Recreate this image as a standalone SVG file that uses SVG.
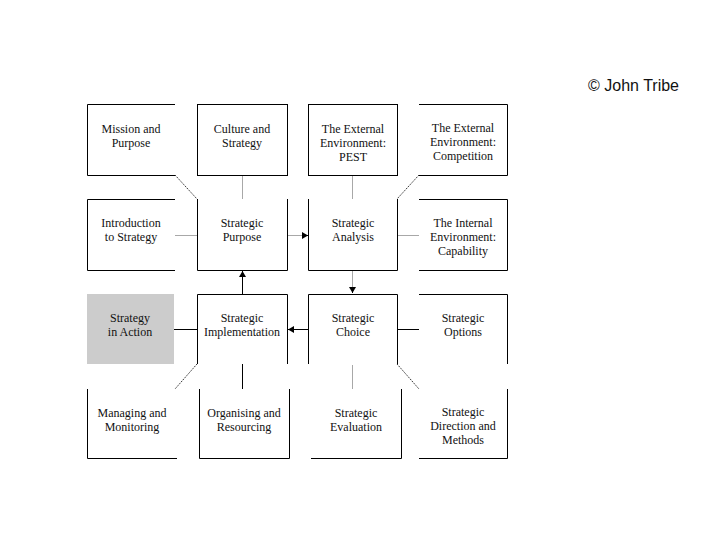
<svg xmlns="http://www.w3.org/2000/svg" width="720" height="540" viewBox="0 0 720 540">
<style>
.b{fill:none;stroke:#000;stroke-width:1}
.t{font-family:"Liberation Serif","Times New Roman",serif;font-size:12px;fill:#111;text-anchor:middle}
.g{stroke:#a8a8a8;stroke-width:1;fill:none}
.k{stroke:#000;stroke-width:1;fill:none}
.d{stroke:#333;stroke-width:1;stroke-dasharray:1.5,1;fill:none}
</style>
<defs>
<marker id="ah" markerUnits="userSpaceOnUse" markerWidth="8" markerHeight="8" refX="6" refY="3.5" orient="auto">
<path d="M0,0 L6,3.5 L0,7 Z" fill="#000"/>
</marker>
</defs>
<rect width="720" height="540" fill="#fff"/>
<text x="679" y="91" font-family="'Liberation Sans',Arial,sans-serif" font-size="16" fill="#111" text-anchor="end">© John Tribe</text>

<g id="connectors">
<line class="d" x1="175" y1="175" x2="197" y2="199"/>
<line class="g" x1="242.5" y1="176" x2="242.5" y2="199"/>
<line class="g" x1="175" y1="235.5" x2="197" y2="235.5"/>
<line class="g" x1="288" y1="235.5" x2="303" y2="235.5"/>
<line class="k" x1="302" y1="235.5" x2="308" y2="235.5" marker-end="url(#ah)"/>
<line class="g" x1="352.5" y1="176" x2="352.5" y2="199"/>
<line class="d" x1="419" y1="175" x2="397" y2="199"/>
<line class="g" x1="398" y1="235.5" x2="419" y2="235.5"/>
<line class="g" x1="352.5" y1="271" x2="352.5" y2="288"/>
<line class="k" x1="352.5" y1="287" x2="352.5" y2="293" marker-end="url(#ah)"/>
<line class="k" x1="308" y1="329.5" x2="288" y2="329.5" marker-end="url(#ah)"/>
<line class="k" x1="242.5" y1="294" x2="242.5" y2="271" marker-end="url(#ah)"/>
<line class="k" x1="174" y1="329.5" x2="197" y2="329.5"/>
<line class="k" x1="398" y1="329.5" x2="419" y2="329.5"/>
<line class="k" x1="242.5" y1="364" x2="242.5" y2="389"/>
<line class="d" x1="197" y1="364" x2="175" y2="389"/>
<line class="g" x1="352.5" y1="365" x2="352.5" y2="389"/>
<line class="d" x1="397" y1="364" x2="419" y2="389"/>
</g>

<g id="mission">
<path class="b" d="M175,104.5 H87.5 V175.5 H175"/>
<text class="t" x="131" y="133">Mission and</text>
<text class="t" x="131" y="147">Purpose</text>
</g>
<g id="culture">
<rect class="b" x="197.5" y="104.5" width="90" height="71"/>
<text class="t" x="242" y="133">Culture and</text>
<text class="t" x="242" y="147">Strategy</text>
</g>
<g id="pest">
<rect class="b" x="308.5" y="104.5" width="89" height="71"/>
<text class="t" x="353" y="133">The External</text>
<text class="t" x="353" y="147">Environment:</text>
<text class="t" x="353" y="161">PEST</text>
</g>
<g id="competition">
<path class="b" d="M419,104.5 H507.5 V175.5 H419"/>
<text class="t" x="463" y="132">The External</text>
<text class="t" x="463" y="146">Environment:</text>
<text class="t" x="463" y="160">Competition</text>
</g>

<g id="introduction">
<path class="b" d="M175,199.5 H87.5 V270.5 H175"/>
<text class="t" x="131" y="227">Introduction</text>
<text class="t" x="131" y="241">to Strategy</text>
</g>
<g id="purpose">
<path class="b" d="M197.5,199 V270.5 H287.5 V199"/>
<text class="t" x="242" y="227">Strategic</text>
<text class="t" x="242" y="241">Purpose</text>
</g>
<g id="analysis">
<path class="b" d="M308.5,199 V270.5 H397.5 V199"/>
<text class="t" x="353" y="227">Strategic</text>
<text class="t" x="353" y="241">Analysis</text>
</g>
<g id="internal">
<path class="b" d="M419,199.5 H507.5 V270.5 H419"/>
<text class="t" x="463" y="227">The Internal</text>
<text class="t" x="463" y="241">Environment:</text>
<text class="t" x="463" y="255">Capability</text>
</g>

<g id="action">
<rect x="87" y="294" width="87" height="70" fill="#cccccc"/>
<text class="t" x="130" y="322">Strategy</text>
<text class="t" x="130" y="336">in Action</text>
</g>
<g id="implementation">
<path class="b" d="M197.5,364 V294.5 H287.5 V364"/>
<text class="t" x="242" y="322">Strategic</text>
<text class="t" x="242" y="336">Implementation</text>
</g>
<g id="choice">
<path class="b" d="M308.5,364 V294.5 H397.5 V364"/>
<text class="t" x="353" y="322">Strategic</text>
<text class="t" x="353" y="336">Choice</text>
</g>
<g id="options">
<path class="b" d="M419,294.5 H507.5 V364"/>
<text class="t" x="463" y="322">Strategic</text>
<text class="t" x="463" y="336">Options</text>
</g>

<g id="managing">
<path class="b" d="M87.5,389 V458.5 H177"/>
<text class="t" x="132" y="417">Managing and</text>
<text class="t" x="132" y="431">Monitoring</text>
</g>
<g id="organising">
<path class="b" d="M199.5,389 V458.5 H289.5 V389"/>
<text class="t" x="244" y="417">Organising and</text>
<text class="t" x="244" y="431">Resourcing</text>
</g>
<g id="evaluation">
<path class="b" d="M311,458.5 H401.5 V389"/>
<text class="t" x="356" y="417">Strategic</text>
<text class="t" x="356" y="431">Evaluation</text>
</g>
<g id="direction">
<path class="b" d="M419,458.5 H507.5 V389"/>
<text class="t" x="463" y="416">Strategic</text>
<text class="t" x="463" y="430">Direction and</text>
<text class="t" x="463" y="444">Methods</text>
</g>
</svg>
